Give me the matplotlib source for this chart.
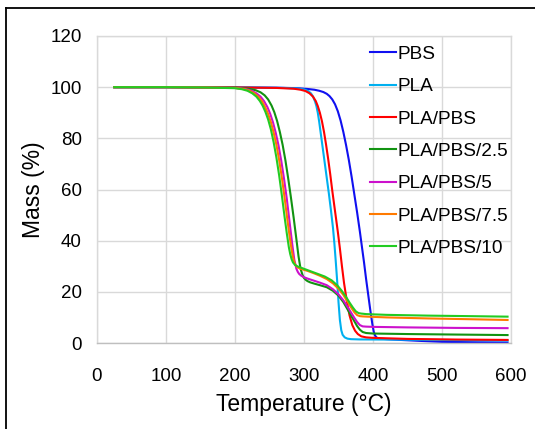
import matplotlib
matplotlib.use("Agg")
import matplotlib.pyplot as plt
from matplotlib.lines import Line2D

plt.rcParams['font.family'] = ['Liberation Sans', 'DejaVu Sans']

# ---- data ----
t_pbs = [25, 100, 200, 260, 290, 305, 315, 322, 328, 333, 337, 341, 345, 349, 353, 357, 361, 365, 369, 373, 377, 381, 384, 387, 390, 393, 396, 399, 401, 403, 405, 407, 410, 420, 440, 470, 500, 550, 595]
m_pbs = [100, 100, 99.9, 99.8, 99.6, 99.3, 99.0, 98.6, 98.1, 97.4, 96.5, 95.2, 93.3, 90.6, 87, 82.5, 77.3, 71.5, 65, 58, 51, 43.5, 37.5, 31.5, 25, 19, 13, 7.5, 4.5, 2.9, 2.2, 1.9, 1.7, 1.5, 1.2, 0.8, 0.45, 0.3, 0.2]

t_pla = [25, 100, 200, 270, 290, 300, 306, 310, 313, 316, 318, 320, 322, 324, 326, 328, 330, 333, 336, 339, 342, 344, 346, 348, 350, 352, 354, 356, 359, 363, 368, 380, 450, 520, 595]
m_pla = [100, 100, 99.9, 99.7, 99.5, 99.1, 98.5, 97.6, 96.4, 94.4, 92.6, 90, 86.5, 82.5, 78.5, 74.5, 70.5, 64.5, 58.5, 52, 45, 39, 32, 24.5, 16, 9, 5, 3.2, 2.2, 1.7, 1.5, 1.4, 1.3, 1.15, 1.0]

t_blend = [25, 100, 200, 260, 285, 295, 302, 308, 313, 317, 320, 323, 326, 329, 332, 335, 338, 341, 345, 349, 352, 355, 358, 362, 366, 370, 374, 378, 383, 390, 400, 450, 520, 595]
m_blend = [100, 100, 99.9, 99.7, 99.4, 99.0, 98.5, 97.6, 96.3, 94.6, 92.6, 90, 86.7, 82.5, 77.5, 72, 66, 59.5, 51.5, 43.5, 37, 30, 23.5, 16.5, 10.8, 7, 4.8, 3.5, 2.6, 2.2, 2.0, 1.6, 1.35, 1.2]

t_b25 = [25, 100, 150, 200, 220, 230, 237, 243, 248, 253, 257, 261, 265, 269, 273, 277, 281, 285, 289, 292, 295, 298, 300, 302, 305, 309, 315, 323, 333, 342, 350, 357, 363, 368, 373, 377, 381, 385, 390, 400, 450, 520, 595]
m_b25 = [100, 100, 99.9, 99.8, 99.4, 98.8, 98, 96.8, 95.2, 92.8, 90.2, 86.8, 82.5, 77.5, 71.5, 64.5, 57, 49, 40.5, 34, 29, 26.5, 25.4, 24.8, 24.2, 23.7, 23.2, 22.6, 21.8, 20.4, 18.5, 16, 13.2, 10.8, 8.5, 6.6, 5.2, 4.3, 3.9, 3.7, 3.5, 3.3, 3.1]

t_b5 = [25, 100, 150, 200, 215, 224, 231, 237, 242, 247, 251, 255, 259, 263, 267, 271, 275, 279, 283, 286, 289, 291, 293, 296, 300, 306, 314, 323, 333, 342, 350, 357, 363, 368, 373, 377, 381, 385, 390, 400, 450, 520, 595]
m_b5 = [100, 100, 99.9, 99.7, 99.3, 98.6, 97.6, 96.3, 94.6, 92.2, 89.6, 86.3, 82.2, 77.3, 71.3, 64.3, 56.5, 47.5, 38.5, 32.5, 29, 27.8, 27, 26.3, 25.7, 25.1, 24.4, 23.6, 22.6, 21, 19, 16.7, 14.2, 12, 9.8, 8.2, 7.0, 6.5, 6.4, 6.3, 6.1, 5.9, 5.8]

t_b75 = [25, 100, 150, 200, 212, 221, 228, 234, 239, 244, 248, 252, 256, 260, 264, 268, 272, 276, 279, 282, 284, 286, 288, 291, 295, 300, 306, 314, 323, 333, 342, 350, 357, 363, 368, 373, 377, 381, 385, 392, 420, 480, 540, 595]
m_b75 = [100, 100, 99.9, 99.7, 99.3, 98.6, 97.6, 96.2, 94.5, 92, 89.5, 86.3, 82.3, 77.5, 71.5, 64.5, 56.5, 48, 42, 36.5, 33.5, 31.5, 30.3, 29.5, 29, 28.6, 28.1, 27.3, 26.3, 25, 23.3, 21.2, 18.8, 16.2, 14, 12, 10.9, 10.5, 10.4, 10.3, 10.0, 9.6, 9.3, 9.0]

t_b10 = [25, 100, 150, 200, 210, 218, 225, 231, 236, 240, 244, 248, 252, 256, 260, 264, 268, 272, 275, 278, 280, 282, 284, 287, 291, 296, 302, 310, 320, 330, 340, 348, 355, 361, 366, 371, 375, 379, 383, 390, 420, 480, 540, 595]
m_b10 = [100, 100, 99.9, 99.6, 99.2, 98.6, 97.6, 96.3, 94.6, 92.8, 90.4, 87.4, 83.5, 78.5, 72.5, 65.5, 57.5, 49, 43, 37.5, 34.8, 32.8, 31.5, 30.5, 29.9, 29.4, 28.8, 28, 27, 26, 24.5, 22.6, 20.3, 18, 15.8, 13.8, 12.4, 11.7, 11.5, 11.3, 11.0, 10.7, 10.5, 10.3]

labels = ["PBS", "PLA", "PLA/PBS", "PLA/PBS/2.5", "PLA/PBS/5", "PLA/PBS/7.5", "PLA/PBS/10"]
colors = ["#1010F0", "#00B0F0", "#FF0000", "#119311", "#CC11CC", "#FF7A00", "#22CC22"]

x_ticks = [0, 100, 200, 300, 400, 500, 600]
y_ticks = [0, 20, 40, 60, 80, 100, 120]

series = [(t_pbs, m_pbs), (t_pla, m_pla), (t_blend, m_blend), (t_b25, m_b25),
          (t_b5, m_b5), (t_b75, m_b75), (t_b10, m_b10)]

W, H = 535, 429
fig = plt.figure(figsize=(W / 100, H / 100), dpi=100)
ax = fig.add_axes([97 / W, 1 - 343 / H, (511 - 97) / W, (343 - 36) / H])

for (t, m), lab, c in zip(series, labels, colors):
    ax.plot(t, m, color=c, lw=1.5, label=lab, solid_joinstyle='round')

ax.set_xlim(0, 600)
ax.set_ylim(0, 120)
ax.set_xticks(x_ticks)
ax.set_yticks(y_ticks)
ax.grid(True, color='#D9D9D9', lw=1)
ax.set_axisbelow(True)
for s in ['top', 'right', 'left']:
    ax.spines[s].set_color('#D9D9D9')
    ax.spines[s].set_linewidth(1)
ax.spines['bottom'].set_color('#BFBFBF')
ax.spines['bottom'].set_linewidth(1)
ax.tick_params(axis='both', length=0, labelsize=13.5)
ax.tick_params(axis='x', pad=18)
ax.tick_params(axis='y', pad=11)
ax.set_xlabel("Temperature (°C)", fontsize=16.5, labelpad=5.5)
ax.set_ylabel("Mass (%)", fontsize=16.5, labelpad=3.7)

leg = ax.legend(loc='upper left', bbox_to_anchor=(370 / W, 1 - 45.5 / H),
                bbox_transform=fig.transFigure, frameon=False, fontsize=13.7,
                handlelength=1.35, handletextpad=0.1, labelspacing=0.79,
                borderpad=0, borderaxespad=0)

# figure border (left and top lines)
fig.add_artist(Line2D([6 / W, 6 / W], [0, 1 - 8 / H], transform=fig.transFigure, color='black', lw=1.3))
fig.add_artist(Line2D([6 / W, 1], [1 - 8 / H, 1 - 8 / H], transform=fig.transFigure, color='black', lw=1.3))

fig.savefig("out.png", dpi=100)
